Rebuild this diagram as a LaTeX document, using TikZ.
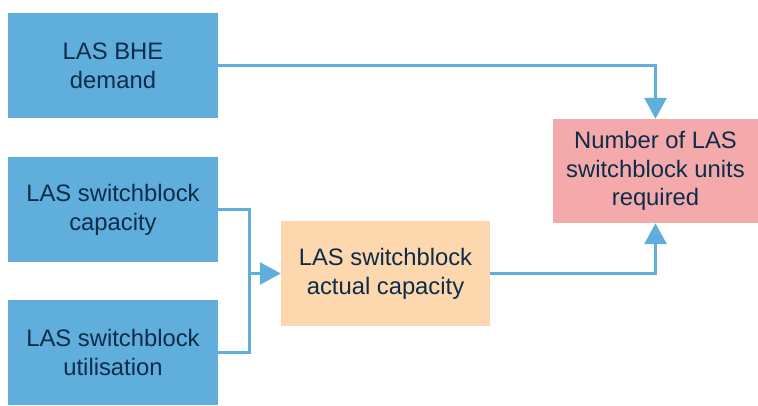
\documentclass[tikz,border=0pt]{standalone}
\usepackage{fontspec}
\setmainfont{Liberation Sans}
\usetikzlibrary{arrows.meta}
\definecolor{boxblue}{HTML}{5FAEDC}
\definecolor{boxorange}{HTML}{FDD7AE}
\definecolor{boxred}{HTML}{F4AAAA}
\definecolor{txtnavy}{HTML}{0E2C48}
\definecolor{linkblue}{HTML}{5FAEDC}
\tikzset{
  box/.style={rectangle, inner sep=0pt, align=center, text=txtnavy,
    font=\fontsize{23.8}{28.8}\selectfont},
  inbox/.style={box, fill=boxblue, minimum width=210pt, minimum height=105pt},
  midbox/.style={box, fill=boxorange, minimum width=209pt, minimum height=105pt},
  outbox/.style={box, fill=boxred, minimum width=205pt, minimum height=104pt},
  link/.style={draw=linkblue, line width=3pt},
  flow/.style={link, -{Triangle[length=21pt,width=22pt]}},
}
\begin{document}
\begin{tikzpicture}[x=1pt,y=-1pt]
  \useasboundingbox (0,0) rectangle (758,405);

  % input quantities
  \node[inbox] (dem)  at (113,65.5)  {LAS BHE\\demand};
  \node[inbox] (cap)  at (113,209.5) {LAS switchblock\\capacity};
  \node[inbox] (util) at (113,352.5) {LAS switchblock\\utilisation};

  % derived quantities
  \node[midbox] (act) at (385.5,273.5) {LAS switchblock\\actual capacity};
  \node[outbox] (req) at (655.5,171)  {Number of LAS\\switchblock units\\required};

  % bracket merging capacity and utilisation
  \coordinate (join) at (249,273.5);
  \draw[link] (cap.east) -| (join) |- (util.east);
  \draw[flow] (join) -- (act.west);

  % links into the result
  \draw[flow] (dem.east) -| (req.north);
  \draw[flow] (act.east) -| (req.south);
\end{tikzpicture}
\end{document}
